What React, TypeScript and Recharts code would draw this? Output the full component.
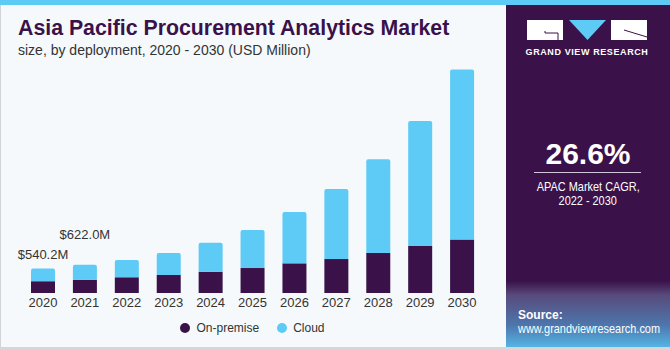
import React from "react";
import { BarChart, Bar, XAxis, YAxis, LabelList } from "recharts";

const years = ["2020", "2021", "2022", "2023", "2024", "2025", "2026", "2027", "2028", "2029", "2030"];
const onPremise = [260, 292, 345, 396, 469, 550, 653, 748, 880, 1034, 1181];
const cloud = [280.2, 330, 381, 484, 638, 836, 1129, 1540, 2068, 2757, 3740];
const valueLabels = ["$540.2M", "$622.0M", "", "", "", "", "", "", "", "", ""];
const labelLift = [9, 26];
const seriesNames = ["On-premise", "Cloud"];

const PURPLE = "#3a1249";
const BLUE = "#5ecbf6";
const BG = "#f5f9fc";
const TEXT = "#333333";
const seriesColors = [PURPLE, BLUE];

const data = years.map((year, i) => ({
  year,
  onPremise: onPremise[i],
  cloud: cloud[i],
  label: valueLabels[i],
}));

function TopLabel(props: any) {
  const { x, y, width, value, index } = props;
  if (!value) return null;
  return (
    <text
      x={x + width / 2}
      y={y - (labelLift[index] ?? 8)}
      textAnchor="middle"
      fontSize={13}
      fill={TEXT}
      fontFamily="Liberation Sans, Arial, sans-serif"
    >
      {value}
    </text>
  );
}

function Logo() {
  return (
    <svg width={170} height={70} style={{ position: "absolute", left: 500, top: 10 }}>
      <rect x={27} y={10} width={36} height={20} fill="#ffffff" />
      <path d="M45 21 L45 23 L58 23 L58 30" stroke={PURPLE} strokeWidth={1} fill="none" />
      <polygon points="69,10 106,10 87.5,30" fill={BLUE} />
      <rect x={111} y={10} width={36} height={20} fill="#ffffff" />
      <path d="M124 20 L147 27" stroke={PURPLE} strokeWidth={1} fill="none" />
      <text
        x={87}
        y={44.5}
        textAnchor="middle"
        fontSize={9}
        fontWeight="bold"
        letterSpacing={0.6}
        fill="#ffffff"
        fontFamily="Liberation Sans, Arial, sans-serif"
      >
        GRAND VIEW RESEARCH
      </text>
    </svg>
  );
}

const narrow: React.CSSProperties = {
  display: "inline-block",
  transform: "scaleX(0.84)",
  whiteSpace: "nowrap",
};

export default function App() {
  return (
    <div
      style={{
        position: "absolute",
        left: 0,
        top: 0,
        width: 670,
        height: 350,
        background: BG,
        overflow: "hidden",
        fontFamily: "Liberation Sans, Arial, sans-serif",
      }}
    >
      <div style={{ position: "absolute", left: 0, top: 0, width: 670, height: 5, background: BLUE }} />
      <div style={{ position: "absolute", left: 0, top: 5, width: 1, height: 345, background: "#d0d4d8" }} />
      <div style={{ position: "absolute", left: 0, top: 347, width: 670, height: 3, background: "#d4d6d8" }} />

      <div
        style={{
          position: "absolute",
          left: 18,
          top: 18,
          fontSize: 21.3,
          lineHeight: 1,
          fontWeight: "bold",
          color: PURPLE,
          whiteSpace: "nowrap",
        }}
      >
        Asia Pacific Procurement Analytics Market
      </div>
      <div
        style={{
          position: "absolute",
          left: 18,
          top: 43,
          fontSize: 14,
          lineHeight: 1,
          color: TEXT,
          whiteSpace: "nowrap",
        }}
      >
        size, by deployment, 2020 - 2030 (USD Million)
      </div>

      <div style={{ position: "absolute", left: 0, top: 0 }}>
        <BarChart
          width={500}
          height={350}
          data={data}
          margin={{ top: 66, right: 17, bottom: 37, left: 22 }}
          barSize={24}
        >
          <XAxis
            dataKey="year"
            axisLine={false}
            tickLine={false}
            tickSize={0}
            tickMargin={5}
            height={20}
            tick={{ fontSize: 13, fill: TEXT }}
            interval={0}
          />
          <YAxis hide domain={[0, 5000]} />
          <Bar dataKey="onPremise" name="On-premise" stackId="a" fill={PURPLE} isAnimationActive={false} />
          <Bar
            dataKey="cloud"
            name="Cloud"
            stackId="a"
            fill={BLUE}
            radius={[2, 2, 0, 0]}
            isAnimationActive={false}
          >
            <LabelList dataKey="label" content={<TopLabel />} />
          </Bar>
        </BarChart>
      </div>

      <div
        style={{
          position: "absolute",
          left: 22,
          top: 321,
          width: 461,
          display: "flex",
          justifyContent: "center",
          gap: 18,
          fontSize: 12,
          lineHeight: "14px",
          color: TEXT,
        }}
      >
        {seriesNames.map((name, i) => (
          <div key={name} style={{ display: "flex", alignItems: "center" }}>
            <span
              style={{
                width: 10,
                height: 10,
                borderRadius: 5,
                background: seriesColors[i],
                display: "inline-block",
                marginRight: 6,
              }}
            />
            <span>{name}</span>
          </div>
        ))}
      </div>

      <div
        style={{
          position: "absolute",
          left: 506,
          top: 5,
          width: 164,
          height: 342,
          background: `linear-gradient(to bottom, ${PURPLE} 0px, ${PURPLE} 276px, #584a7c 290px, #4d76ac 320px, #55b4e4 342px)`,
        }}
      />
      <Logo />
      <div
        style={{
          position: "absolute",
          left: 506,
          top: 139,
          width: 164,
          textAlign: "center",
          fontSize: 30,
          lineHeight: 1,
          fontWeight: "bold",
          color: "#ffffff",
        }}
      >
        26.6%
      </div>
      <div style={{ position: "absolute", left: 534, top: 172, width: 107, height: 1, background: "#cfc6d8" }} />
      <div
        style={{
          position: "absolute",
          left: 506,
          top: 180,
          width: 164,
          textAlign: "center",
          fontSize: 13,
          lineHeight: "14px",
          color: "#ffffff",
        }}
      >
        <span style={narrow}>APAC Market CAGR,</span>
        <br />
        <span style={narrow}>2022 - 2030</span>
      </div>
      <div
        style={{
          position: "absolute",
          left: 518,
          top: 308,
          fontSize: 13,
          lineHeight: "14px",
          color: "#ffffff",
        }}
      >
        <div style={{ fontWeight: "bold", fontSize: 12 }}>Source:</div>
        <div style={{ ...narrow, transformOrigin: "left center" }}>www.grandviewresearch.com</div>
      </div>
    </div>
  );
}
